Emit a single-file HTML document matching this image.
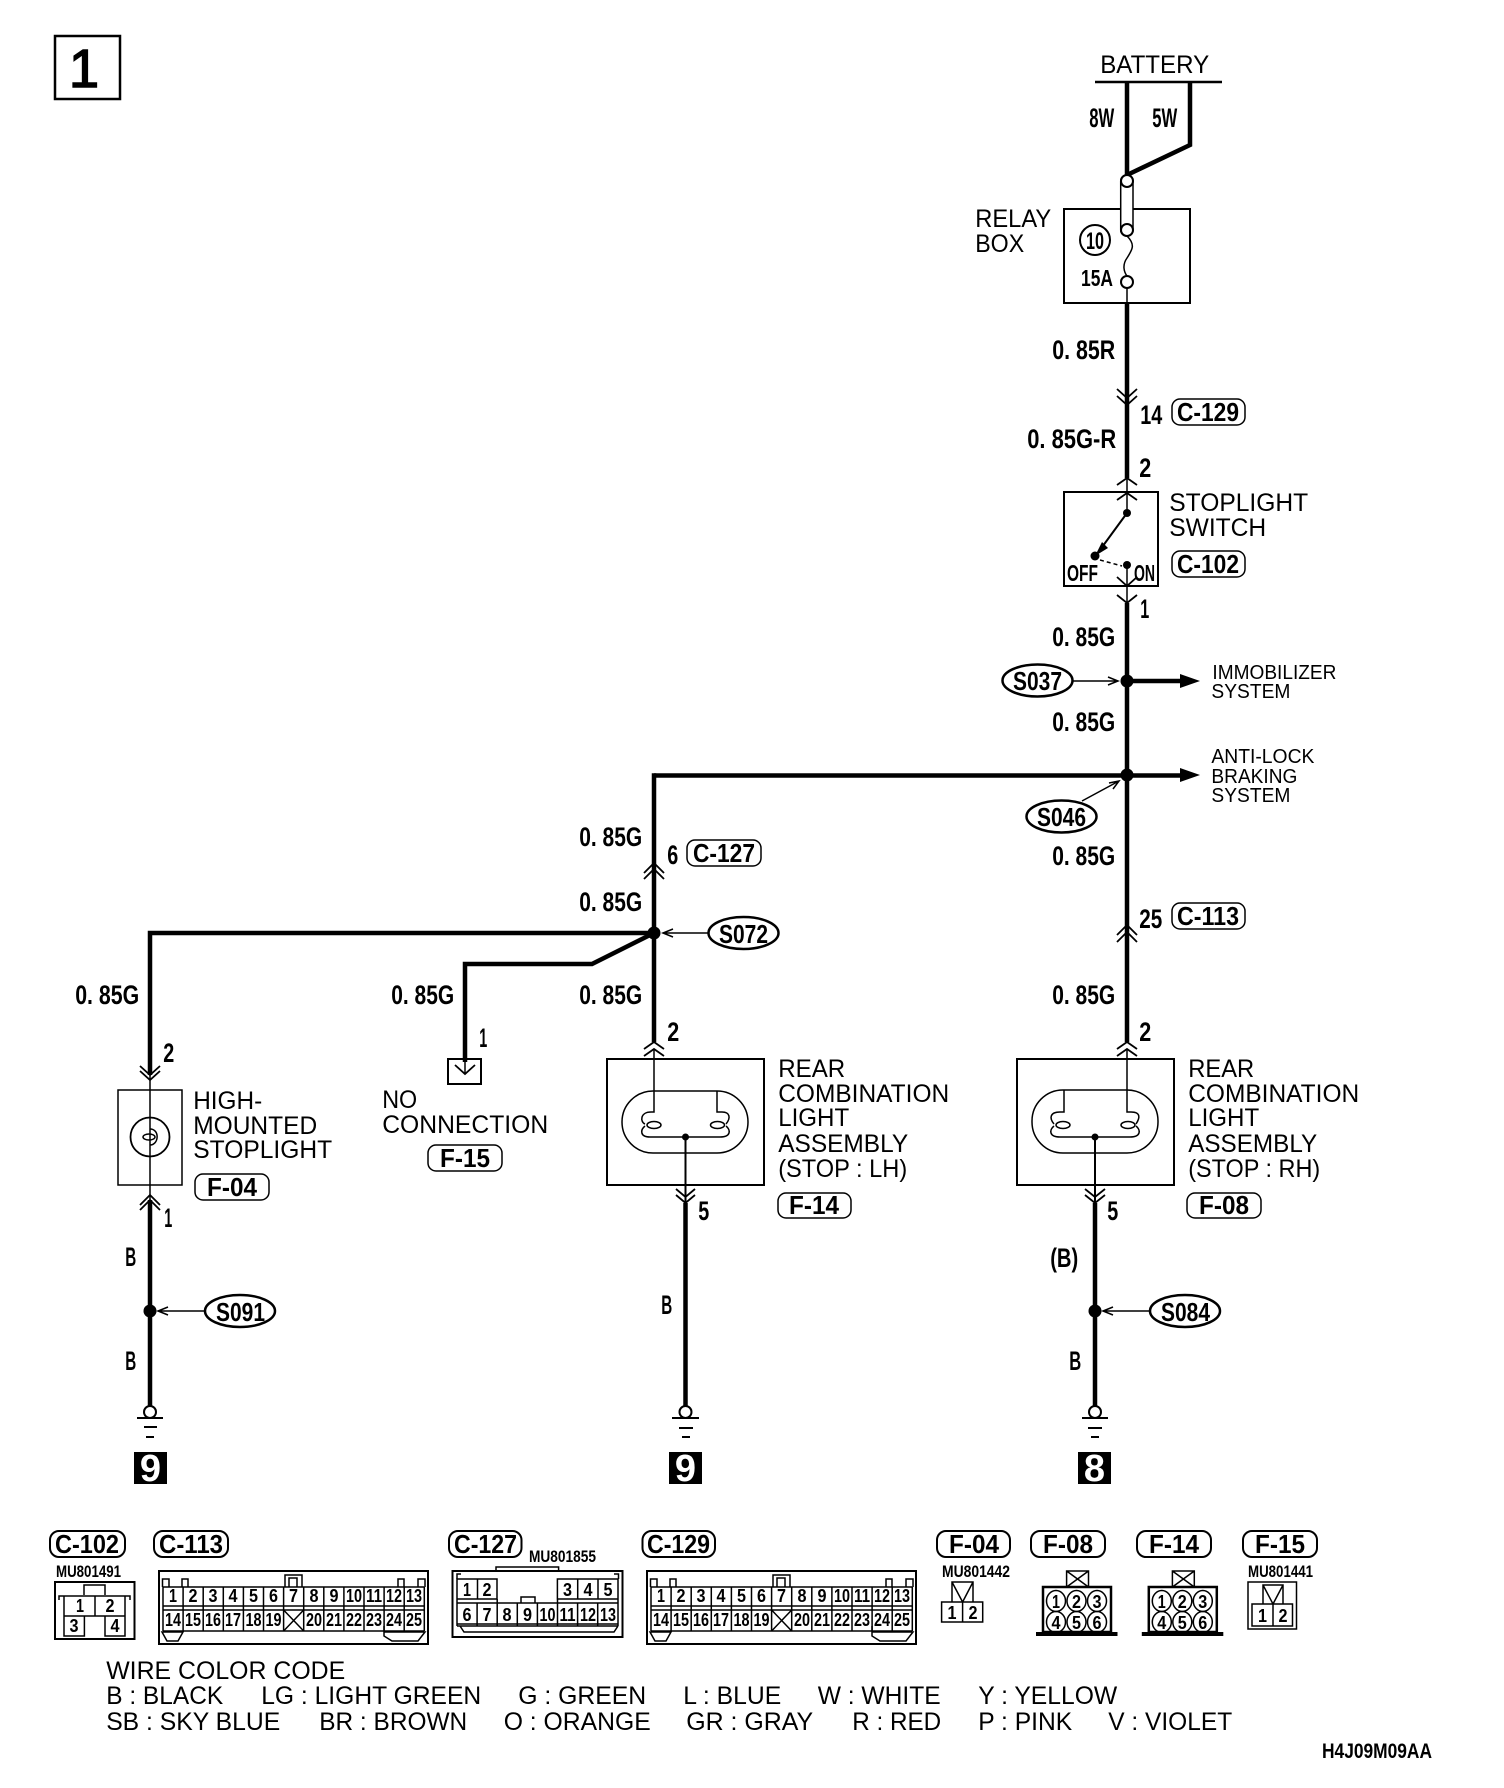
<!DOCTYPE html>
<html><head><meta charset="utf-8"><title>Stoplight wiring diagram</title>
<style>
html,body{margin:0;padding:0;background:#fff}
svg{display:block}
text{font-family:"Liberation Sans",sans-serif;fill:#000}
.r{font-size:25px;transform:translateX(-0.8px)}
.s{font-size:20px;transform:translateX(-0.6px)}
.b{font-size:27px;font-weight:700;transform:translateX(-0.8px)}
.p{font-size:26px;font-weight:700}
.m{font-size:17px;font-weight:700}
.d{font-size:18px;font-weight:700;text-anchor:middle}
.w{fill:none;stroke:#000;stroke-width:4.5}
.t{fill:none;stroke:#000;stroke-width:1.5}
.c{fill:none;stroke:#000;stroke-width:1.8}
.k{fill:none;stroke:#000;stroke-width:2}
.g{fill:#fff;stroke:#000;stroke-width:2}
.o{fill:#fff;stroke:#000;stroke-width:2.5}
.n{fill:#000;stroke:none}
.wd{fill:#fff;font-size:38px;font-weight:700;text-anchor:middle}
</style></head><body>
<svg width="1504" height="1788" viewBox="0 0 1504 1788" xmlns="http://www.w3.org/2000/svg">
<rect width="1504" height="1788" fill="#fff"/>

<!-- page number -->
<rect x="55" y="36" width="65" height="63" fill="none" stroke="#000" stroke-width="2.5"/>
<text x="84" y="87" font-size="54" text-anchor="middle" stroke="#000" stroke-width="1.5">1</text>

<!-- battery -->
<text class="r" x="1101" y="73" textLength="109" lengthAdjust="spacingAndGlyphs">BATTERY</text>
<path d="M1095 82H1222" class="k" style="stroke-width:2.5"/>
<path d="M1127 82V175" class="w"/>
<path d="M1190 82V145L1127 175" class="w"/>
<text class="b" x="1090" y="127" textLength="25" lengthAdjust="spacingAndGlyphs">8W</text>
<text class="b" x="1153" y="127" textLength="25" lengthAdjust="spacingAndGlyphs">5W</text>

<!-- relay box -->
<rect x="1064" y="209" width="126" height="94" class="k" />
<rect x="1120.7" y="175" width="12.3" height="61" rx="6" fill="#fff" stroke="#000" stroke-width="1.5"/>
<circle cx="1127" cy="181" r="6" class="g"/>
<circle cx="1127" cy="230" r="6" class="g"/>
<path d="M1127 236C1136 245 1132 250 1127 258C1122 265 1124 272 1127 276" class="t"/>
<circle cx="1127" cy="282" r="6" class="g"/>
<path d="M1127 288V303" class="t"/>
<text class="r" x="976" y="227" textLength="76" lengthAdjust="spacingAndGlyphs">RELAY</text>
<text class="r" x="976" y="252" textLength="49" lengthAdjust="spacingAndGlyphs">BOX</text>
<circle cx="1095" cy="240" r="15" class="k"/>
<text x="1095" y="249" font-size="24" font-weight="700" text-anchor="middle" textLength="18" lengthAdjust="spacingAndGlyphs">10</text>
<text x="1081" y="286" font-size="23" font-weight="700" textLength="32" lengthAdjust="spacingAndGlyphs">15A</text>

<!-- main wire upper -->
<path d="M1127 303V478" class="w"/>
<text class="b" x="1053" y="359" textLength="63" lengthAdjust="spacingAndGlyphs">0. 85R</text>
<polyline class="c" points="1117,389 1127,398 1137,389"/>
<polyline class="c" points="1117,396 1127,405 1137,396"/>
<text class="b" x="1141" y="424" textLength="22" lengthAdjust="spacingAndGlyphs">14</text>
<rect x="1172" y="399" width="73" height="26" rx="8" class="t"/>
<text class="p" x="1177" y="421" textLength="62" lengthAdjust="spacingAndGlyphs">C-129</text>
<text class="b" x="1028" y="448" textLength="89" lengthAdjust="spacingAndGlyphs">0. 85G-R</text>
<text class="b" x="1140" y="477" textLength="12" lengthAdjust="spacingAndGlyphs">2</text>
<polyline class="c" points="1117,485 1127,478 1137,485"/>

<!-- stoplight switch -->
<rect x="1064" y="492" width="94" height="94" class="k"/>
<polyline class="c" points="1117,500 1127,493 1137,500"/>
<path d="M1127 478V513" class="t"/>
<circle cx="1127" cy="513" r="4" class="n"/>
<path d="M1127 513L1097 554" class="k"/>
<circle cx="1095" cy="556" r="4.5" class="n"/>
<polygon class="n" points="1095,556 1102,542 1108,548"/>
<path d="M1100 560L1122 566" fill="none" stroke="#000" stroke-width="1.5" stroke-dasharray="4 3"/>
<circle cx="1127" cy="565" r="4" class="n"/>
<path d="M1127 565V603" class="t"/>
<polyline class="c" points="1117,577 1127,586 1137,577"/>
<text x="1067" y="581" font-size="23" font-weight="700" textLength="31" lengthAdjust="spacingAndGlyphs">OFF</text>
<text x="1134" y="581" font-size="23" font-weight="700" textLength="21" lengthAdjust="spacingAndGlyphs">ON</text>
<text class="r" x="1170" y="511" textLength="139" lengthAdjust="spacingAndGlyphs">STOPLIGHT</text>
<text class="r" x="1170" y="536" textLength="97" lengthAdjust="spacingAndGlyphs">SWITCH</text>
<rect x="1172" y="551" width="73" height="26" rx="8" class="t"/>
<text class="p" x="1177" y="573" textLength="62" lengthAdjust="spacingAndGlyphs">C-102</text>
<polyline class="c" points="1117,595 1127,603 1137,595"/>
<text class="b" x="1141" y="618" textLength="9" lengthAdjust="spacingAndGlyphs">1</text>

<!-- main wire lower -->
<path d="M1127 603V1042" class="w"/>
<text class="b" x="1053" y="646" textLength="63" lengthAdjust="spacingAndGlyphs">0. 85G</text>

<circle cx="1127" cy="681" r="6.5" class="n"/>
<path d="M1127 681H1182" class="w"/>
<polygon class="n" points="1180,674 1200,681 1180,688"/>
<text class="s" x="1213" y="679" textLength="124" lengthAdjust="spacingAndGlyphs">IMMOBILIZER</text>
<text class="s" x="1212" y="698" textLength="79" lengthAdjust="spacingAndGlyphs">SYSTEM</text>
<ellipse cx="1037.5" cy="680.5" rx="35" ry="16" class="o"/>
<text class="p" x="1013" y="690" textLength="49" lengthAdjust="spacingAndGlyphs">S037</text>
<path d="M1073 681H1118M1108 677L1118 681L1108 685" class="t"/>
<text class="b" x="1053" y="731" textLength="63" lengthAdjust="spacingAndGlyphs">0. 85G</text>

<path d="M1182 775.5H654" class="w"/>
<circle cx="1127" cy="775" r="6.5" class="n"/>
<polygon class="n" points="1180,768 1200,775 1180,782"/>
<text class="s" x="1212" y="763" textLength="103" lengthAdjust="spacingAndGlyphs">ANTI-LOCK</text>
<text class="s" x="1212" y="783" textLength="86" lengthAdjust="spacingAndGlyphs">BRAKING</text>
<text class="s" x="1212" y="802" textLength="79" lengthAdjust="spacingAndGlyphs">SYSTEM</text>
<ellipse cx="1061.5" cy="816.5" rx="35" ry="16" class="o"/>
<text class="p" x="1037" y="826" textLength="49" lengthAdjust="spacingAndGlyphs">S046</text>
<path d="M1082 801L1119 781M1109 783L1119 781L1113 789" class="t"/>
<text class="b" x="1053" y="865" textLength="63" lengthAdjust="spacingAndGlyphs">0. 85G</text>
<text class="b" x="1140" y="928" textLength="23" lengthAdjust="spacingAndGlyphs">25</text>
<rect x="1172" y="903" width="73" height="26" rx="8" class="t"/>
<text class="p" x="1177" y="925" textLength="62" lengthAdjust="spacingAndGlyphs">C-113</text>
<polyline class="c" points="1117,935 1127,925 1137,935"/>
<polyline class="c" points="1117,942 1127,932 1137,942"/>
<text class="b" x="1053" y="1004" textLength="63" lengthAdjust="spacingAndGlyphs">0. 85G</text>
<text class="b" x="1140" y="1041" textLength="12" lengthAdjust="spacingAndGlyphs">2</text>
<polyline class="c" points="1117,1049 1127,1042 1137,1049"/>
<polyline class="c" points="1117,1056 1127,1049 1137,1056"/>

<!-- center vertical -->
<path d="M654 773.25V1042" class="w"/>
<text class="b" x="580" y="846" textLength="63" lengthAdjust="spacingAndGlyphs">0. 85G</text>
<text class="b" x="668" y="864" textLength="11" lengthAdjust="spacingAndGlyphs">6</text>
<rect x="687" y="840" width="74" height="26" rx="8" class="t"/>
<text class="p" x="693" y="862" textLength="62" lengthAdjust="spacingAndGlyphs">C-127</text>
<polyline class="c" points="644,873 654,863 664,873"/>
<polyline class="c" points="644,879 654,869 664,879"/>
<text class="b" x="580" y="911" textLength="63" lengthAdjust="spacingAndGlyphs">0. 85G</text>
<path d="M654 933H150V1075" class="w"/>
<path d="M654 933L592 964H465V1062" class="w"/>
<circle cx="654" cy="933" r="6.5" class="n"/>
<path d="M708 933H663M673 929L663 933L673 937" class="t"/>
<ellipse cx="743.5" cy="933" rx="35" ry="16" class="o"/>
<text class="p" x="719" y="943" textLength="49" lengthAdjust="spacingAndGlyphs">S072</text>
<text class="b" x="580" y="1004" textLength="63" lengthAdjust="spacingAndGlyphs">0. 85G</text>
<text class="b" x="668" y="1041" textLength="12" lengthAdjust="spacingAndGlyphs">2</text>
<polyline class="c" points="644,1049 654,1042 664,1049"/>
<polyline class="c" points="644,1056 654,1049 664,1056"/>

<text class="b" x="76" y="1004" textLength="64" lengthAdjust="spacingAndGlyphs">0. 85G</text>
<text class="b" x="392" y="1004" textLength="63" lengthAdjust="spacingAndGlyphs">0. 85G</text>

<!-- high-mounted stoplight -->
<text class="b" x="164" y="1062" textLength="11" lengthAdjust="spacingAndGlyphs">2</text>
<polyline class="c" points="140,1066 150,1075 160,1066"/>
<polyline class="c" points="140,1071 150,1080 160,1071"/>
<rect x="118" y="1090" width="64" height="95" class="t"/>
<path d="M150 1075V1200" class="t"/>
<circle cx="150" cy="1137" r="19.5" fill="none" stroke="#000" stroke-width="1.8"/>
<ellipse cx="149" cy="1137" rx="6" ry="3" class="t" fill="#fff"/>
<path d="M150 1129C160 1129 159 1145 150 1145" class="t"/>
<text class="r" x="194" y="1109" textLength="69" lengthAdjust="spacingAndGlyphs">HIGH-</text>
<text class="r" x="194" y="1134" textLength="124" lengthAdjust="spacingAndGlyphs">MOUNTED</text>
<text class="r" x="194" y="1158" textLength="139" lengthAdjust="spacingAndGlyphs">STOPLIGHT</text>
<rect x="195" y="1174" width="74" height="26" rx="8" class="t"/>
<text class="p" x="207" y="1196" textLength="50" lengthAdjust="spacingAndGlyphs">F-04</text>
<polyline class="c" points="140,1205 150,1195 160,1205"/>
<polyline class="c" points="140,1210 150,1200 160,1210"/>
<path d="M150 1200V1408" class="w"/>
<text class="b" x="165" y="1227" textLength="8" lengthAdjust="spacingAndGlyphs">1</text>
<text class="b" x="126" y="1266" textLength="11" lengthAdjust="spacingAndGlyphs">B</text>
<circle cx="150" cy="1311" r="6.5" class="n"/>
<path d="M204 1311H158M168 1307L158 1311L168 1315" class="t"/>
<ellipse cx="240" cy="1311" rx="35" ry="16" class="o"/>
<text class="p" x="216" y="1321" textLength="49" lengthAdjust="spacingAndGlyphs">S091</text>
<text class="b" x="126" y="1370" textLength="11" lengthAdjust="spacingAndGlyphs">B</text>
<circle cx="150" cy="1412" r="6" class="g"/>
<path d="M137 1418H163M144 1427H157M146 1437H154" class="k"/>
<rect x="134" y="1452" width="33" height="32" class="n"/>
<text class="wd" x="150.5" y="1481">9</text>

<!-- no connection -->
<rect x="448" y="1059" width="33" height="25" class="k" />
<path d="M465 1059V1074" class="t"/>
<polyline class="c" points="455,1065 465,1074 475,1065"/>
<text class="b" x="480" y="1047" textLength="8" lengthAdjust="spacingAndGlyphs">1</text>
<text class="r" x="383" y="1108" textLength="35" lengthAdjust="spacingAndGlyphs">NO</text>
<text class="r" x="383" y="1133" textLength="166" lengthAdjust="spacingAndGlyphs">CONNECTION</text>
<rect x="428" y="1145" width="74" height="26" rx="8" class="t"/>
<text class="p" x="440" y="1167" textLength="50" lengthAdjust="spacingAndGlyphs">F-15</text>

<!-- rear lamp LH -->
<rect x="607" y="1059" width="157" height="126" class="k"/>
<rect x="622" y="1091" width="126" height="62" rx="31" class="t"/>
<path d="M654 1049V1112H651C640 1112 640 1122 645 1124M645 1126C640 1130 640 1137 650 1137H720C731 1137 731 1130 726 1126M726 1124C731 1118 730 1112 722 1112H717V1091" class="t"/>
<ellipse cx="654" cy="1125" rx="7" ry="3.5" class="t"/>
<ellipse cx="717.5" cy="1125" rx="7" ry="3.5" class="t"/>
<circle cx="685.5" cy="1137" r="3.5" class="n"/>
<path d="M685.5 1137V1203" class="k"/>
<polyline class="c" points="676,1189 685.5,1197 695,1189"/>
<polyline class="c" points="676,1195 685.5,1203 695,1195"/>
<path d="M685.5 1203V1408" class="w"/>
<text class="b" x="699" y="1220" textLength="11" lengthAdjust="spacingAndGlyphs">5</text>
<text class="r" x="779" y="1077" textLength="67" lengthAdjust="spacingAndGlyphs">REAR</text>
<text class="r" x="779" y="1102" textLength="171" lengthAdjust="spacingAndGlyphs">COMBINATION</text>
<text class="r" x="779" y="1126" textLength="71" lengthAdjust="spacingAndGlyphs">LIGHT</text>
<text class="r" x="779" y="1152" textLength="130" lengthAdjust="spacingAndGlyphs">ASSEMBLY</text>
<text class="r" x="779" y="1177" textLength="129" lengthAdjust="spacingAndGlyphs">(STOP : LH)</text>
<rect x="778" y="1193" width="73" height="25" rx="8" class="t"/>
<text class="p" x="789" y="1214" textLength="50" lengthAdjust="spacingAndGlyphs">F-14</text>
<text class="b" x="662" y="1314" textLength="11" lengthAdjust="spacingAndGlyphs">B</text>
<circle cx="685.5" cy="1412" r="6" class="g"/>
<path d="M672 1418H699M679 1428H693M682 1437H690" class="k"/>
<rect x="669" y="1452" width="33" height="32" class="n"/>
<text class="wd" x="685.5" y="1481">9</text>

<!-- rear lamp RH -->
<rect x="1017" y="1059" width="157" height="126" class="k"/>
<rect x="1032" y="1090" width="126" height="63" rx="31" class="t"/>
<path d="M1127 1049V1112H1131C1141 1112 1140 1118 1136 1124M1136 1126C1141 1130 1141 1137 1130 1137H1060C1049 1137 1049 1130 1054 1126M1054 1124C1049 1118 1050 1112 1060 1112H1064V1090" class="t"/>
<ellipse cx="1063" cy="1125" rx="7" ry="3.5" class="t"/>
<ellipse cx="1128" cy="1125" rx="7" ry="3.5" class="t"/>
<circle cx="1095" cy="1137" r="3.5" class="n"/>
<path d="M1095 1137V1203" class="k"/>
<polyline class="c" points="1085,1189 1095,1197 1105,1189"/>
<polyline class="c" points="1085,1195 1095,1203 1105,1195"/>
<path d="M1095 1203V1408" class="w"/>
<text class="b" x="1108" y="1220" textLength="11" lengthAdjust="spacingAndGlyphs">5</text>
<text class="r" x="1189" y="1077" textLength="66" lengthAdjust="spacingAndGlyphs">REAR</text>
<text class="r" x="1189" y="1102" textLength="171" lengthAdjust="spacingAndGlyphs">COMBINATION</text>
<text class="r" x="1189" y="1126" textLength="71" lengthAdjust="spacingAndGlyphs">LIGHT</text>
<text class="r" x="1189" y="1152" textLength="129" lengthAdjust="spacingAndGlyphs">ASSEMBLY</text>
<text class="r" x="1189" y="1177" textLength="132" lengthAdjust="spacingAndGlyphs">(STOP : RH)</text>
<rect x="1187" y="1193" width="74" height="25" rx="8" class="t"/>
<text class="p" x="1199" y="1214" textLength="50" lengthAdjust="spacingAndGlyphs">F-08</text>
<text class="b" x="1051" y="1267" textLength="28" lengthAdjust="spacingAndGlyphs">(B)</text>
<circle cx="1095" cy="1311" r="6.5" class="n"/>
<path d="M1149 1311H1103M1113 1307L1103 1311L1113 1315" class="t"/>
<ellipse cx="1185" cy="1311" rx="35" ry="16" class="o"/>
<text class="p" x="1161" y="1321" textLength="49" lengthAdjust="spacingAndGlyphs">S084</text>
<text class="b" x="1070" y="1370" textLength="12" lengthAdjust="spacingAndGlyphs">B</text>
<circle cx="1095" cy="1412" r="6" class="g"/>
<path d="M1082 1418H1108M1088 1428H1102M1091 1437H1099" class="k"/>
<rect x="1078" y="1452" width="33" height="32" class="n"/>
<text class="wd" x="1094.5" y="1481">8</text>

<!-- connector labels -->
<g>
<rect x="50" y="1531" width="75" height="26" rx="9" class="k"/>
<text class="p" x="55" y="1553" textLength="64" lengthAdjust="spacingAndGlyphs">C-102</text>
<rect x="154" y="1531" width="74" height="26" rx="9" class="k"/>
<text class="p" x="159" y="1553" textLength="64" lengthAdjust="spacingAndGlyphs">C-113</text>
<rect x="449" y="1531" width="72.5" height="26" rx="9" class="k"/>
<text class="p" x="454" y="1553" textLength="63" lengthAdjust="spacingAndGlyphs">C-127</text>
<rect x="642.5" y="1531" width="72.5" height="26" rx="9" class="k"/>
<text class="p" x="647" y="1553" textLength="63" lengthAdjust="spacingAndGlyphs">C-129</text>
<rect x="937" y="1531" width="73" height="26" rx="9" class="k"/>
<text class="p" x="949" y="1553" textLength="50" lengthAdjust="spacingAndGlyphs">F-04</text>
<rect x="1031" y="1531" width="74" height="26" rx="9" class="k"/>
<text class="p" x="1043" y="1553" textLength="50" lengthAdjust="spacingAndGlyphs">F-08</text>
<rect x="1137" y="1531" width="74" height="26" rx="9" class="k"/>
<text class="p" x="1149" y="1553" textLength="50" lengthAdjust="spacingAndGlyphs">F-14</text>
<rect x="1243" y="1531" width="74" height="26" rx="9" class="k"/>
<text class="p" x="1255" y="1553" textLength="50" lengthAdjust="spacingAndGlyphs">F-15</text>
<text class="m" x="56" y="1577" textLength="65" lengthAdjust="spacingAndGlyphs">MU801491</text>
<text class="m" x="529" y="1562" textLength="67" lengthAdjust="spacingAndGlyphs">MU801855</text>
<text class="m" x="942" y="1577" textLength="68" lengthAdjust="spacingAndGlyphs">MU801442</text>
<text class="m" x="1248" y="1577" textLength="65" lengthAdjust="spacingAndGlyphs">MU801441</text>
</g>

<!-- C-102 connector -->
<rect x="55" y="1582" width="79.5" height="57" class="k"/>
<path d="M84 1595V1585H105V1595M59 1600V1596H130V1600M64 1596V1636H84.4V1616M64 1616H125M95 1596V1616M125 1596V1636H105V1616" class="t"/>
<text class="d" x="80" y="1612" textLength="8" lengthAdjust="spacingAndGlyphs">1</text>
<text class="d" x="110" y="1612" textLength="9" lengthAdjust="spacingAndGlyphs">2</text>
<text class="d" x="74" y="1632" textLength="9" lengthAdjust="spacingAndGlyphs">3</text>
<text class="d" x="115" y="1632" textLength="9" lengthAdjust="spacingAndGlyphs">4</text>

<!-- C-113 connector -->
<g id="c113">
<rect x="159" y="1571" width="269" height="73" class="k"/>
<path d="M285 1587V1575H302V1587M289 1587V1578H297V1587M162.5 1587V1579H169V1587M182 1587V1579H188V1587M398 1587V1579H404V1587M418 1587V1579H425V1587" class="t"/>
<path d="M163 1587H424.300M163 1606H424.300M163 1610H424.300M163 1631H424.300M163 1587V1631M183.100 1587V1631M203.200 1587V1631M223.300 1587V1631M243.400 1587V1631M263.500 1587V1631M283.600 1587V1631M303.700 1587V1631M323.800 1587V1631M343.900 1587V1631M364 1587V1631M384.100 1587V1631M404.200 1587V1631M424.300 1587V1631" class="t"/>
<path d="M283.600 1610L303.700 1631M303.700 1610L283.600 1631M162 1632H183L178 1641H167ZM384 1626V1636L392 1641H418L425 1632H384" class="t"/>
<text class="d" x="173" y="1602" textLength="8" lengthAdjust="spacingAndGlyphs">1</text>
<text class="d" x="193" y="1602" textLength="9" lengthAdjust="spacingAndGlyphs">2</text>
<text class="d" x="213" y="1602" textLength="9" lengthAdjust="spacingAndGlyphs">3</text>
<text class="d" x="233" y="1602" textLength="9" lengthAdjust="spacingAndGlyphs">4</text>
<text class="d" x="253.500" y="1602" textLength="9" lengthAdjust="spacingAndGlyphs">5</text>
<text class="d" x="273.500" y="1602" textLength="9" lengthAdjust="spacingAndGlyphs">6</text>
<text class="d" x="293.500" y="1602" textLength="9" lengthAdjust="spacingAndGlyphs">7</text>
<text class="d" x="314" y="1602" textLength="9" lengthAdjust="spacingAndGlyphs">8</text>
<text class="d" x="334" y="1602" textLength="9" lengthAdjust="spacingAndGlyphs">9</text>
<text class="d" x="354" y="1602" textLength="16" lengthAdjust="spacingAndGlyphs">10</text>
<text class="d" x="374" y="1602" textLength="16" lengthAdjust="spacingAndGlyphs">11</text>
<text class="d" x="394" y="1602" textLength="16" lengthAdjust="spacingAndGlyphs">12</text>
<text class="d" x="414" y="1602" textLength="16" lengthAdjust="spacingAndGlyphs">13</text>
<text class="d" x="173" y="1626" textLength="16" lengthAdjust="spacingAndGlyphs">14</text>
<text class="d" x="193" y="1626" textLength="16" lengthAdjust="spacingAndGlyphs">15</text>
<text class="d" x="213" y="1626" textLength="16" lengthAdjust="spacingAndGlyphs">16</text>
<text class="d" x="233" y="1626" textLength="16" lengthAdjust="spacingAndGlyphs">17</text>
<text class="d" x="253.500" y="1626" textLength="16" lengthAdjust="spacingAndGlyphs">18</text>
<text class="d" x="273.500" y="1626" textLength="16" lengthAdjust="spacingAndGlyphs">19</text>
<text class="d" x="314" y="1626" textLength="16" lengthAdjust="spacingAndGlyphs">20</text>
<text class="d" x="334" y="1626" textLength="16" lengthAdjust="spacingAndGlyphs">21</text>
<text class="d" x="354" y="1626" textLength="16" lengthAdjust="spacingAndGlyphs">22</text>
<text class="d" x="374" y="1626" textLength="16" lengthAdjust="spacingAndGlyphs">23</text>
<text class="d" x="394" y="1626" textLength="16" lengthAdjust="spacingAndGlyphs">24</text>
<text class="d" x="414" y="1626" textLength="16" lengthAdjust="spacingAndGlyphs">25</text>
</g>

<!-- C-129 connector -->
<g transform="translate(488 0)">
<rect x="159" y="1571" width="269" height="73" class="k"/>
<path d="M285 1587V1575H302V1587M289 1587V1578H297V1587M162.500 1587V1579H169V1587M182 1587V1579H188V1587M398 1587V1579H404V1587M418 1587V1579H425V1587" class="t"/>
<path d="M163 1587H424.300M163 1606H424.300M163 1610H424.300M163 1631H424.300M163 1587V1631M183.100 1587V1631M203.200 1587V1631M223.300 1587V1631M243.400 1587V1631M263.500 1587V1631M283.600 1587V1631M303.700 1587V1631M323.800 1587V1631M343.900 1587V1631M364 1587V1631M384.100 1587V1631M404.200 1587V1631M424.300 1587V1631" class="t"/>
<path d="M283.600 1610L303.700 1631M303.700 1610L283.600 1631M162 1632H183L178 1641H167ZM384 1626V1636L392 1641H418L425 1632H384" class="t"/>
<text class="d" x="173" y="1602" textLength="8" lengthAdjust="spacingAndGlyphs">1</text>
<text class="d" x="193" y="1602" textLength="9" lengthAdjust="spacingAndGlyphs">2</text>
<text class="d" x="213" y="1602" textLength="9" lengthAdjust="spacingAndGlyphs">3</text>
<text class="d" x="233" y="1602" textLength="9" lengthAdjust="spacingAndGlyphs">4</text>
<text class="d" x="253.500" y="1602" textLength="9" lengthAdjust="spacingAndGlyphs">5</text>
<text class="d" x="273.500" y="1602" textLength="9" lengthAdjust="spacingAndGlyphs">6</text>
<text class="d" x="293.500" y="1602" textLength="9" lengthAdjust="spacingAndGlyphs">7</text>
<text class="d" x="314" y="1602" textLength="9" lengthAdjust="spacingAndGlyphs">8</text>
<text class="d" x="334" y="1602" textLength="9" lengthAdjust="spacingAndGlyphs">9</text>
<text class="d" x="354" y="1602" textLength="16" lengthAdjust="spacingAndGlyphs">10</text>
<text class="d" x="374" y="1602" textLength="16" lengthAdjust="spacingAndGlyphs">11</text>
<text class="d" x="394" y="1602" textLength="16" lengthAdjust="spacingAndGlyphs">12</text>
<text class="d" x="414" y="1602" textLength="16" lengthAdjust="spacingAndGlyphs">13</text>
<text class="d" x="173" y="1626" textLength="16" lengthAdjust="spacingAndGlyphs">14</text>
<text class="d" x="193" y="1626" textLength="16" lengthAdjust="spacingAndGlyphs">15</text>
<text class="d" x="213" y="1626" textLength="16" lengthAdjust="spacingAndGlyphs">16</text>
<text class="d" x="233" y="1626" textLength="16" lengthAdjust="spacingAndGlyphs">17</text>
<text class="d" x="253.500" y="1626" textLength="16" lengthAdjust="spacingAndGlyphs">18</text>
<text class="d" x="273.500" y="1626" textLength="16" lengthAdjust="spacingAndGlyphs">19</text>
<text class="d" x="314" y="1626" textLength="16" lengthAdjust="spacingAndGlyphs">20</text>
<text class="d" x="334" y="1626" textLength="16" lengthAdjust="spacingAndGlyphs">21</text>
<text class="d" x="354" y="1626" textLength="16" lengthAdjust="spacingAndGlyphs">22</text>
<text class="d" x="374" y="1626" textLength="16" lengthAdjust="spacingAndGlyphs">23</text>
<text class="d" x="394" y="1626" textLength="16" lengthAdjust="spacingAndGlyphs">24</text>
<text class="d" x="414" y="1626" textLength="16" lengthAdjust="spacingAndGlyphs">25</text>
</g>

<!-- C-127 connector -->
<rect x="452.500" y="1571" width="170" height="66" class="k"/>
<path d="M496 1571V1567H558.600V1571M457 1579V1574H461M614 1574H618.500V1579" class="t"/>
<path d="M457 1579H497V1599H457ZM477.500 1579V1599M557.400 1579H618V1599H557.400ZM577.700 1579V1599M598 1579V1599M457 1603H618M457 1624H618M457 1626H618M457 1599V1626M477.100 1603V1626M497.200 1599V1626M517.300 1603V1626M537.400 1603V1626M557.500 1599V1626M577.600 1603V1626M597.700 1603V1626M618 1599V1626M521 1603V1597H535V1603M460 1626L464 1632H614L618 1626" class="t"/>
<text class="d" x="467" y="1596" textLength="8" lengthAdjust="spacingAndGlyphs">1</text>
<text class="d" x="487" y="1596" textLength="9" lengthAdjust="spacingAndGlyphs">2</text>
<text class="d" x="567.500" y="1596" textLength="9" lengthAdjust="spacingAndGlyphs">3</text>
<text class="d" x="588" y="1596" textLength="9" lengthAdjust="spacingAndGlyphs">4</text>
<text class="d" x="608" y="1596" textLength="9" lengthAdjust="spacingAndGlyphs">5</text>
<text class="d" x="467" y="1621" textLength="9" lengthAdjust="spacingAndGlyphs">6</text>
<text class="d" x="487" y="1621" textLength="9" lengthAdjust="spacingAndGlyphs">7</text>
<text class="d" x="507" y="1621" textLength="9" lengthAdjust="spacingAndGlyphs">8</text>
<text class="d" x="527.500" y="1621" textLength="9" lengthAdjust="spacingAndGlyphs">9</text>
<text class="d" x="547.500" y="1621" textLength="16" lengthAdjust="spacingAndGlyphs">10</text>
<text class="d" x="567.500" y="1621" textLength="16" lengthAdjust="spacingAndGlyphs">11</text>
<text class="d" x="588" y="1621" textLength="16" lengthAdjust="spacingAndGlyphs">12</text>
<text class="d" x="608" y="1621" textLength="16" lengthAdjust="spacingAndGlyphs">13</text>

<!-- F-04 connector -->
<path d="M952 1602V1582H973V1602M952 1582L962.600 1602L973 1582M941.600 1602H982.700V1622H941.600ZM962.600 1602V1622" class="t"/>
<text class="d" x="952" y="1619" textLength="9" lengthAdjust="spacingAndGlyphs">1</text>
<text class="d" x="973" y="1619" textLength="9" lengthAdjust="spacingAndGlyphs">2</text>

<!-- F-08 connector -->
<g id="f08">
<path d="M1066.600 1571H1088.500V1587H1066.600ZM1066.600 1571L1088.500 1587M1088.500 1571L1066.600 1587" class="t"/>
<rect x="1043" y="1587" width="68" height="45" fill="none" stroke="#000" stroke-width="2.5"/>
<rect x="1036" y="1632" width="81.500" height="4" class="n"/>
<ellipse cx="1056" cy="1601" rx="9.500" ry="10.500" class="t"/>
<ellipse cx="1076.500" cy="1601" rx="9.500" ry="10.500" class="t"/>
<ellipse cx="1097" cy="1601" rx="9.500" ry="10.500" class="t"/>
<ellipse cx="1056" cy="1622" rx="9.500" ry="10.500" class="t"/>
<ellipse cx="1076.500" cy="1622" rx="9.500" ry="10.500" class="t"/>
<ellipse cx="1097" cy="1622" rx="9.500" ry="10.500" class="t"/>
<text class="d" x="1056" y="1608" textLength="8" lengthAdjust="spacingAndGlyphs">1</text>
<text class="d" x="1076.500" y="1608" textLength="9" lengthAdjust="spacingAndGlyphs">2</text>
<text class="d" x="1097" y="1608" textLength="9" lengthAdjust="spacingAndGlyphs">3</text>
<text class="d" x="1056" y="1629" textLength="9" lengthAdjust="spacingAndGlyphs">4</text>
<text class="d" x="1076.500" y="1629" textLength="9" lengthAdjust="spacingAndGlyphs">5</text>
<text class="d" x="1097" y="1629" textLength="9" lengthAdjust="spacingAndGlyphs">6</text>
</g>

<!-- F-14 connector -->
<g transform="translate(105.800 0)">
<path d="M1066.600 1571H1088.500V1587H1066.600ZM1066.600 1571L1088.500 1587M1088.500 1571L1066.600 1587" class="t"/>
<rect x="1043" y="1587" width="68" height="45" fill="none" stroke="#000" stroke-width="2.5"/>
<rect x="1036" y="1632" width="81.500" height="4" class="n"/>
<ellipse cx="1056" cy="1601" rx="9.500" ry="10.500" class="t"/>
<ellipse cx="1076.500" cy="1601" rx="9.500" ry="10.500" class="t"/>
<ellipse cx="1097" cy="1601" rx="9.500" ry="10.500" class="t"/>
<ellipse cx="1056" cy="1622" rx="9.500" ry="10.500" class="t"/>
<ellipse cx="1076.500" cy="1622" rx="9.500" ry="10.500" class="t"/>
<ellipse cx="1097" cy="1622" rx="9.500" ry="10.500" class="t"/>
<text class="d" x="1056" y="1608" textLength="8" lengthAdjust="spacingAndGlyphs">1</text>
<text class="d" x="1076.500" y="1608" textLength="9" lengthAdjust="spacingAndGlyphs">2</text>
<text class="d" x="1097" y="1608" textLength="9" lengthAdjust="spacingAndGlyphs">3</text>
<text class="d" x="1056" y="1629" textLength="9" lengthAdjust="spacingAndGlyphs">4</text>
<text class="d" x="1076.500" y="1629" textLength="9" lengthAdjust="spacingAndGlyphs">5</text>
<text class="d" x="1097" y="1629" textLength="9" lengthAdjust="spacingAndGlyphs">6</text>
</g>

<!-- F-15 connector -->
<path d="M1248 1582H1296.500V1629H1248ZM1263 1604V1585H1283V1604M1263 1585L1273 1604L1283 1585M1252 1604H1292.500V1626H1252ZM1273 1604V1626" class="t"/>
<text class="d" x="1262.500" y="1622" textLength="9" lengthAdjust="spacingAndGlyphs">1</text>
<text class="d" x="1283" y="1622" textLength="9" lengthAdjust="spacingAndGlyphs">2</text>

<!-- wire color code -->
<text class="r" x="107" y="1679" textLength="239" lengthAdjust="spacingAndGlyphs">WIRE COLOR CODE</text>
<text class="r" x="107" y="1704" textLength="117" lengthAdjust="spacingAndGlyphs">B : BLACK</text>
<text class="r" x="262" y="1704" textLength="220" lengthAdjust="spacingAndGlyphs">LG : LIGHT GREEN</text>
<text class="r" x="519" y="1704" textLength="128" lengthAdjust="spacingAndGlyphs">G : GREEN</text>
<text class="r" x="684" y="1704" textLength="98" lengthAdjust="spacingAndGlyphs">L : BLUE</text>
<text class="r" x="818.500" y="1704" textLength="123" lengthAdjust="spacingAndGlyphs">W : WHITE</text>
<text class="r" x="979" y="1704" textLength="139" lengthAdjust="spacingAndGlyphs">Y : YELLOW</text>
<text class="r" x="107" y="1730" textLength="174" lengthAdjust="spacingAndGlyphs">SB : SKY BLUE</text>
<text class="r" x="320" y="1730" textLength="148" lengthAdjust="spacingAndGlyphs">BR : BROWN</text>
<text class="r" x="504.500" y="1730" textLength="147" lengthAdjust="spacingAndGlyphs">O : ORANGE</text>
<text class="r" x="687" y="1730" textLength="127" lengthAdjust="spacingAndGlyphs">GR : GRAY</text>
<text class="r" x="853" y="1730" textLength="89" lengthAdjust="spacingAndGlyphs">R : RED</text>
<text class="r" x="979" y="1730" textLength="94" lengthAdjust="spacingAndGlyphs">P : PINK</text>
<text class="r" x="1109" y="1730" textLength="124" lengthAdjust="spacingAndGlyphs">V : VIOLET</text>
<text x="1322" y="1758" font-size="21" font-weight="700" textLength="110" lengthAdjust="spacingAndGlyphs">H4J09M09AA</text>
</svg>
</body></html>
